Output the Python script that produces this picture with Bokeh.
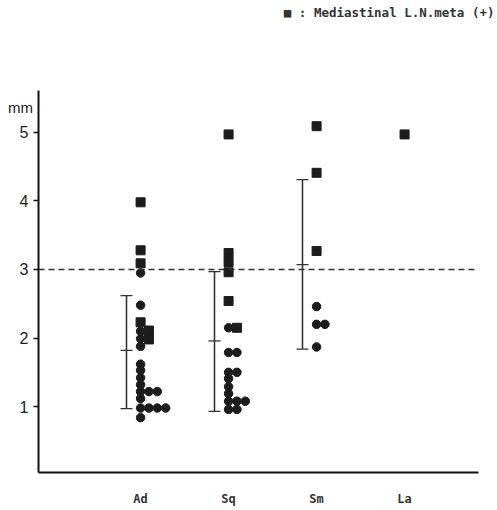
from bokeh.plotting import figure
from bokeh.models import ColumnDataSource, Span, Label, FixedTicker, Whisker
from bokeh.embed import file_html
from bokeh.resources import INLINE

# ---- data (mm) ----
categories = ["Ad", "Sq", "Sm", "La"]

# circles: LN meta (-) ; squares: mediastinal LN meta (+)
# stacked-column index is for coincident values
ad_circ_val = [2.95, 2.48, 2.10, 1.99, 1.88, 1.62, 1.53, 1.42, 1.32, 1.22, 1.22, 1.22, 1.12, 0.98, 0.98, 0.98, 0.98, 0.84]
ad_circ_col = [0, 0, 0, 0, 0, 0, 0, 0, 0, 0, 1, 2, 0, 0, 1, 2, 3, 0]
ad_sq_val = [3.98, 3.28, 3.09, 2.23, 2.11, 1.98]
ad_sq_col = [0, 0, 0, 0, 1, 1]

sq_circ_val = [2.15, 1.79, 1.79, 1.50, 1.50, 1.41, 1.29, 1.19, 1.08, 1.08, 1.08, 0.96, 0.96]
sq_circ_col = [0, 0, 1, 0, 1, 0, 0, 0, 0, 1, 2, 0, 1]
sq_sq_val = [4.97, 3.24, 3.11, 2.96, 2.54, 2.15]
sq_sq_col = [0, 0, 0, 0, 0, 1]

sm_circ_val = [2.46, 2.20, 2.20, 1.87]
sm_circ_col = [0, 0, 1, 0]
sm_sq_val = [5.09, 4.41, 3.27]
sm_sq_col = [0, 0, 0]

la_circ_val = []
la_circ_col = []
la_sq_val = [4.97]
la_sq_col = [0]

# mean, lower, upper (mean +/- SD)
bar_mean = [1.82, 1.96, 3.07]
bar_low = [0.97, 0.93, 1.84]
bar_high = [2.62, 2.97, 4.31]

cutoff = 3.0
y_ticks = [1, 2, 3, 4, 5]
legend_text = "\u25a0 : Mediastinal L.N.meta (+)"

# ---- build ----
ink = "#1c1c1c"
col_step = 0.095
dot_shift = 0.0
bar_shift = -0.16

groups = [
    (ad_circ_val, ad_circ_col, ad_sq_val, ad_sq_col),
    (sq_circ_val, sq_circ_col, sq_sq_val, sq_sq_col),
    (sm_circ_val, sm_circ_col, sm_sq_val, sm_sq_col),
    (la_circ_val, la_circ_col, la_sq_val, la_sq_col),
]
cx, cy, sx, sy = [], [], [], []
for i, (cv, cc, sv, sc) in enumerate(groups):
    cx += [i + dot_shift + c * col_step for c in cc]
    cy += list(cv)
    sx += [i + dot_shift + c * col_step for c in sc]
    sy += list(sv)

p = figure(width=497, height=508, output_backend="svg", toolbar_location=None,
           x_range=(-1.16, 3.84), y_range=(0.04, 5.61),
           min_border_left=38, min_border_right=19, min_border_top=90, min_border_bottom=34)
p.outline_line_color = None
p.background_fill_color = "white"
p.border_fill_color = "white"
p.xgrid.visible = False
p.ygrid.visible = False

# texts in the band above the frame (screen offsets from each panel's bottom-left)
p.add_layout(Label(x=-18, y=-17, x_units="screen", y_units="screen", text="mm",
                   text_font="Liberation Sans", text_font_size="15px", text_color="#222222",
                   text_align="center", text_baseline="middle"), "above")
p.add_layout(Label(x=456, y=61, x_units="screen", y_units="screen", text=legend_text,
                   text_font="DejaVu Sans Mono", text_font_size="12.5px",
                   text_font_style="bold", text_color="#333333",
                   text_align="right", text_baseline="middle"), "above")

p.add_layout(Span(location=cutoff, dimension="width", line_color="#333333",
                  line_width=1.5, line_dash="6 4"))

bx = [i + bar_shift for i in range(len(bar_mean))]
bsrc = ColumnDataSource(dict(x=bx, mean=bar_mean, low=bar_low, high=bar_high))
p.segment(x0="x", y0="low", x1="x", y1="high", source=bsrc, line_color="#333333", line_width=1.3)
w = Whisker(base="x", lower="low", upper="high", source=bsrc, dimension="height",
            line_color="#333333", line_width=1.3)
w.upper_head.size = 12
w.lower_head.size = 12
w.upper_head.line_color = "#333333"
w.lower_head.line_color = "#333333"
w.upper_head.line_width = 1.3
w.lower_head.line_width = 1.3
p.add_layout(w)
p.dash(x="x", y="mean", source=bsrc, size=12, angle=0, line_color="#333333", line_width=1.3)

p.scatter(cx, cy, marker="circle", size=8.5, fill_color=ink, line_color=ink)
p.scatter(sx, sy, marker="square", size=9, fill_color=ink, line_color=ink)

# axes
p.yaxis.ticker = FixedTicker(ticks=y_ticks)
p.yaxis.minor_tick_line_color = None
p.yaxis.major_tick_out = 5
p.yaxis.major_tick_in = 0
p.yaxis.axis_line_width = 2
p.yaxis.axis_line_color = "#111111"
p.yaxis.major_tick_line_color = "#111111"
p.yaxis.major_tick_line_width = 1.5
p.yaxis.major_label_text_font = "Liberation Sans"
p.yaxis.major_label_text_font_size = "16px"
p.yaxis.major_label_text_color = "#222222"
p.yaxis.major_label_standoff = 5

p.xaxis.ticker = FixedTicker(ticks=list(range(len(categories))))
p.xaxis.major_label_overrides = {i: c for i, c in enumerate(categories)}
p.xaxis.minor_tick_line_color = None
p.xaxis.major_tick_line_color = None
p.xaxis.major_tick_out = 0
p.xaxis.major_tick_in = 0
p.xaxis.axis_line_width = 2
p.xaxis.axis_line_color = "#111111"
p.xaxis.major_label_text_font = "DejaVu Sans Mono"
p.xaxis.major_label_text_font_size = "12px"
p.xaxis.major_label_text_font_style = "bold"
p.xaxis.major_label_text_color = "#333333"
p.xaxis.major_label_standoff = 19

open("out.html", "w").write(file_html(p, INLINE))
